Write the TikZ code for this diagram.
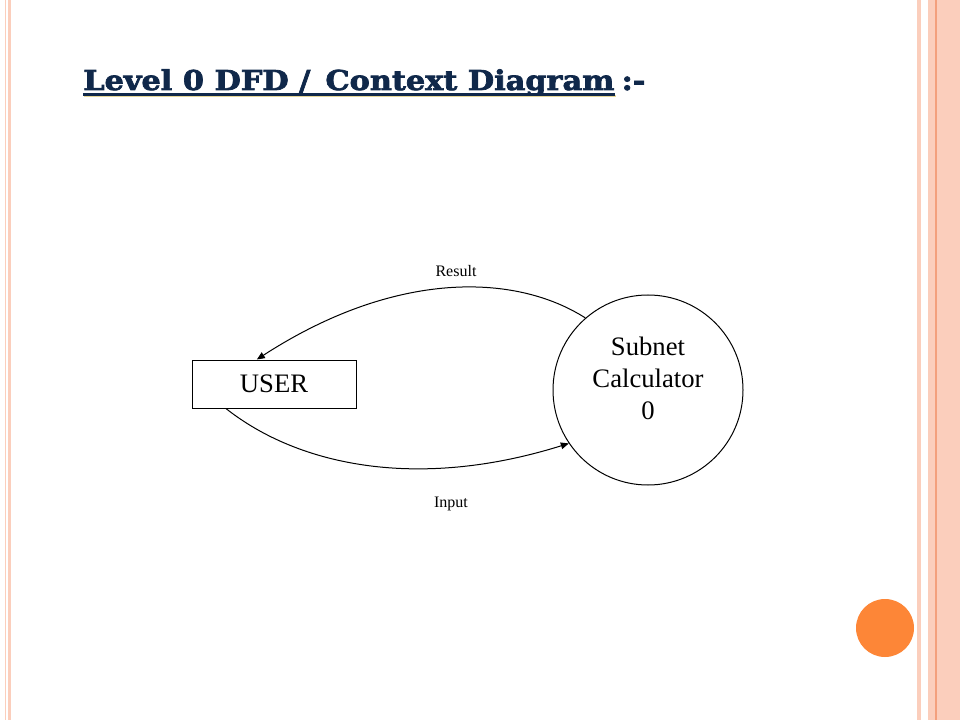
\documentclass[tikz,border=0pt]{standalone}
\usepackage{fontspec}
\setmainfont{Liberation Serif}
\newfontfamily\titlefont[FakeStretch=1.11,FakeBold=2.6]{DejaVu Serif}
\usetikzlibrary{arrows.meta}
\definecolor{stripe}{RGB}{251,206,188}
\definecolor{stripedark}{RGB}{243,160,125}
\definecolor{titleblue}{RGB}{16,40,74}
\definecolor{glow}{RGB}{230,214,150}
\definecolor{dot}{RGB}{253,134,55}
\tikzset{
  entity/.style={draw, line width=0.75pt, rectangle, minimum width=123pt, minimum height=36pt, inner sep=0pt, font=\fontsize{20}{24}\selectfont},
  process/.style={draw, line width=0.75pt, circle, minimum size=142.5pt, inner sep=0pt, font=\fontsize{20}{24}\selectfont},
  flow/.style={line width=0.75pt, -{Triangle[length=6pt,width=5pt]}},
  flowlabel/.style={inner sep=0pt, font=\fontsize{12}{14}\selectfont},
  heading/.style={anchor=base west, inner sep=0pt, text=titleblue, font=\titlefont\bfseries\fontsize{20.5}{24}\selectfont}
}
\begin{document}
\begin{tikzpicture}[x=0.75pt,y=-0.75pt]
  \fill[white] (0,0) rectangle (960,720);
  \useasboundingbox (0,0) rectangle (960,720);
  \fill[stripe] (5,0) rectangle (6.3,720);
  \fill[stripe] (7.5,0) rectangle (11,720);
  \fill[stripe] (917,0) rectangle (921,720);
  \fill[stripe] (928,0) rectangle (960,720);
  \fill[stripedark] (935,0) rectangle (937,720);
  \fill[dot] (885,628) circle[radius=21.75pt];

  \node (title) [heading] at (83,90) {Level 0 DFD / \,Context Diagram};
  \node (titletail) [heading] at ([xshift=5pt]title.base east) {:-};
  \draw[glow, line width=2pt] ([xshift=1pt,yshift=-4.5pt]title.base west) -- ([xshift=1pt,yshift=-4.5pt]title.base east);
  \draw[titleblue, line width=2pt] ([yshift=-3.5pt]title.base west) -- ([yshift=-3.5pt]title.base east);

  \node (user) [entity] at (274,384) {USER};
  \node (calc) [process] at (648,390) {\raisebox{1.5pt}[0pt][0pt]{\begin{tabular}{@{}c@{}}Subnet\\Calculator\\0\end{tabular}}};

  \draw[flow] (calc.131) .. controls (515,273) and (395,270) .. (user.125);
  \draw[flow] (user.207.5) .. controls (300,467) and (420,490) .. (calc.214);
  \node (result) [flowlabel] at (456,271) {Result};
  \node (input) [flowlabel] at (451,504) {Input};
\end{tikzpicture}
\end{document}
